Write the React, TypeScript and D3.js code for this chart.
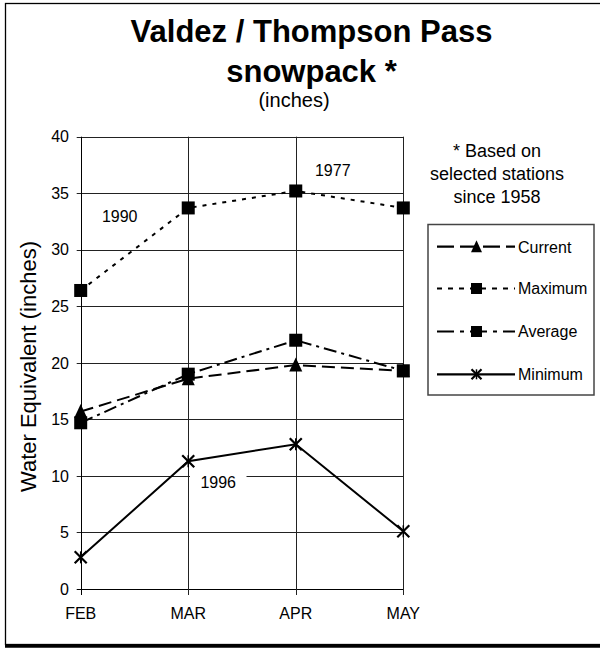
import React from "react";
import * as d3 from "d3";

const months = ["FEB", "MAR", "APR", "MAY"];
const current = [15.7, 18.6, 19.8, 19.3];
const maximum = [26.4, 33.7, 35.2, 33.7];
const average = [14.7, 19.0, 22.0, 19.3];
const minimum = [2.8, 11.3, 12.8, 5.1];
const yTicks = [0, 5, 10, 15, 20, 25, 30, 35, 40];
const seriesNames = ["Current", "Maximum", "Average", "Minimum"];
const noteLines = ["* Based on", "selected stations", "since 1958"];
const yearNotes = [
  { label: "1990", m: "FEB", v: 32.5, dx: 39 },
  { label: "1977", m: "APR", v: 36.5, dx: 37 },
  { label: "1996", m: "MAR", v: 8.9, dx: 30 },
];

const FONT = "Arial, 'Liberation Sans', Helvetica, sans-serif";

type Style = { dash: string; marker: "triangle" | "square" | "star"; legendDash: string };
const styles: Record<string, Style> = {
  Current: { dash: "13,6", marker: "triangle", legendDash: "17,6" },
  Maximum: { dash: "4,6", marker: "square", legendDash: "5,6" },
  Average: { dash: "13,5,3,5", marker: "square", legendDash: "17,6,4,6" },
  Minimum: { dash: "none", marker: "star", legendDash: "none" },
};

function Marker({ kind, x, y, s }: { kind: string; x: number; y: number; s: number }) {
  if (kind === "square") {
    return <rect x={x - s / 2} y={y - s / 2} width={s} height={s} fill="#000" />;
  }
  if (kind === "triangle") {
    const h = s;
    return (
      <path
        d={`M${x},${y - h / 2 - 1}L${x + s / 2},${y + h / 2}L${x - s / 2},${y + h / 2}Z`}
        fill="#000"
      />
    );
  }
  const r = s / 2;
  return (
    <g stroke="#000" strokeWidth={2.2} fill="none">
      <path d={`M${x - r},${y - r}L${x + r},${y + r}M${x - r},${y + r}L${x + r},${y - r}`} />
      <path d={`M${x},${y - r}L${x},${y + r}`} strokeWidth={1.5} />
    </g>
  );
}

export default function App() {
  const x = d3.scalePoint<string>().domain(months).range([80.7, 403.3]).padding(0);
  const y = d3.scaleLinear().domain([0, 40]).range([589, 136.7]);
  const data: Record<string, number[]> = {
    Current: current,
    Maximum: maximum,
    Average: average,
    Minimum: minimum,
  };
  const line = d3
    .line<number>()
    .x((_, i) => x(months[i]) as number)
    .y((d) => y(d));

  const legendX0 = 437;
  const legendX1 = 515;
  const legendMid = 476.5;
  const legendYs = [246.7, 288.5, 331.5, 374.3];

  return (
    <svg
      width={600}
      height={648}
      style={{ position: "absolute", left: 0, top: 0, background: "#fff" }}
      fontFamily={FONT}
    >
      <rect x={0} y={0} width={600} height={648} fill="#fff" />
      {/* frame */}
      <rect x={5.5} y={3.5} width={620} height={641} fill="none" stroke="#000" strokeWidth={1.3} />
      <line x1={5} x2={600} y1={646.3} y2={646.3} stroke="#000" strokeWidth={3} />

      {/* title */}
      <text x={311.5} y={42} textAnchor="middle" fontSize={31} fontWeight="bold">
        Valdez / Thompson Pass
      </text>
      <text x={311.5} y={81.5} textAnchor="middle" fontSize={31} fontWeight="bold">
        snowpack *
      </text>
      <text x={294} y={106.8} textAnchor="middle" fontSize={20}>
        (inches)
      </text>

      {/* grid */}
      {yTicks.map((t) => (
        <g key={"gy" + t}>
          <line
            x1={x("FEB")! - 4}
            x2={x("MAY")!}
            y1={Math.round(y(t)) + 0.5}
            y2={Math.round(y(t)) + 0.5}
            stroke={t === 0 ? "#000" : "#222"}
            strokeWidth={1}
          />
          <text x={69} y={y(t) + 5.7} textAnchor="end" fontSize={16}>
            {t}
          </text>
        </g>
      ))}
      {months.map((m) => (
        <g key={"gx" + m}>
          <line
            x1={Math.round(x(m)!) + 0.5}
            x2={Math.round(x(m)!) + 0.5}
            y1={y(40)}
            y2={y(0) + 6}
            stroke={m === "FEB" ? "#000" : "#222"}
            strokeWidth={1}
          />
          <text x={x(m)!} y={619} textAnchor="middle" fontSize={16}>
            {m}
          </text>
        </g>
      ))}

      {/* axis title */}
      <text transform={`translate(36,366.5) rotate(-90)`} textAnchor="middle" fontSize={22}>
        Water Equivalent (inches)
      </text>

      {/* year annotations */}
      {yearNotes.map((n) => {
        const cx = (x(n.m) as number) + n.dx;
        const cy = y(n.v);
        return (
          <g key={n.label}>
            {n.label === "1996" && (
              <rect x={190} y={cy - 18} width={56.5} height={24} fill="#fff" />
            )}
            <text x={cx} y={cy} textAnchor="middle" fontSize={16}>
              {n.label}
            </text>
          </g>
        );
      })}

      {/* series */}
      {seriesNames.map((name) => {
        const st = styles[name];
        return (
          <g key={name}>
            <path
              d={line(data[name]) as string}
              fill="none"
              stroke="#000"
              strokeWidth={2}
              strokeDasharray={st.dash}
            />
            {data[name].map((v, i) => (
              <Marker
                key={i}
                kind={st.marker}
                x={x(months[i]) as number}
                y={y(v)}
                s={st.marker === "star" ? 12 : 13}
              />
            ))}
          </g>
        );
      })}

      {/* note */}
      {noteLines.map((t, i) => (
        <text key={t} x={497} y={156.7 + i * 23.2} textAnchor="middle" fontSize={18}>
          {t}
        </text>
      ))}

      {/* legend */}
      <rect x={428} y={224.5} width={166} height={170.5} fill="#fff" stroke="#444" strokeWidth={1.5} />
      {seriesNames.map((name, i) => {
        const st = styles[name];
        const ly = legendYs[i];
        return (
          <g key={"lg" + name}>
            <line
              x1={legendX0}
              x2={legendX1}
              y1={ly}
              y2={ly}
              stroke="#000"
              strokeWidth={2.2}
              strokeDasharray={st.legendDash}
            />
            <Marker kind={st.marker} x={legendMid} y={ly} s={st.marker === "star" ? 10 : 11} />
            <text x={518} y={ly + 5.8} fontSize={16}>
              {name}
            </text>
          </g>
        );
      })}
    </svg>
  );
}
